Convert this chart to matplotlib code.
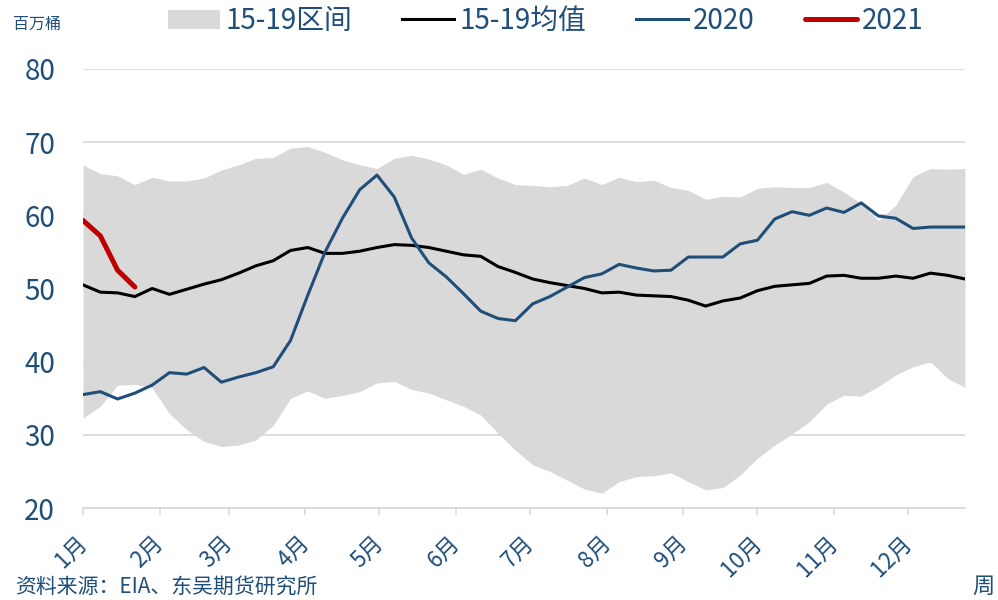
import matplotlib
matplotlib.use('Agg')
import matplotlib.pyplot as plt
import matplotlib.transforms as mtransforms
from matplotlib.patches import Patch
from matplotlib.lines import Line2D
import numpy as np

plt.rcParams['font.family'] = ['Noto Sans CJK SC', 'DejaVu Sans']

# weekly data, 52 weeks
band_high = [66.9, 65.7, 65.4, 64.2, 65.2, 64.7, 64.7, 65.1, 66.2, 66.9,
             67.8, 67.9, 69.2, 69.4, 68.6, 67.6, 66.9, 66.4, 67.8, 68.2,
             67.7, 66.9, 65.6, 66.3, 65.1, 64.2, 64.1, 63.9, 64.1, 65.1,
             64.2, 65.2, 64.6, 64.8, 63.8, 63.4, 62.2, 62.6, 62.5, 63.7,
             63.9, 63.8, 63.8, 64.5, 63.2, 61.6, 59.3, 61.4, 65.3, 66.4,
             66.3, 66.4]
band_low = [32.3, 33.9, 36.8, 36.9, 36.4, 32.9, 30.7, 29.1, 28.4, 28.6,
            29.3, 31.3, 35.0, 36.0, 35.0, 35.4, 35.9, 37.1, 37.3, 36.2,
            35.7, 34.8, 33.9, 32.7, 30.2, 27.9, 25.9, 25.0, 23.8, 22.6,
            22.0, 23.6, 24.3, 24.4, 24.8, 23.6, 22.5, 22.8, 24.5, 26.8,
            28.6, 30.1, 31.8, 34.2, 35.4, 35.3, 36.6, 38.2, 39.3, 40.0,
            37.7, 36.5]
avg_15_19 = [50.5, 49.5, 49.4, 48.9, 50.0, 49.2, 49.9, 50.6, 51.2, 52.1,
             53.1, 53.8, 55.2, 55.6, 54.8, 54.8, 55.1, 55.6, 56.0, 55.9,
             55.6, 55.1, 54.6, 54.4, 53.0, 52.2, 51.3, 50.8, 50.4, 50.0,
             49.4, 49.5, 49.1, 49.0, 48.9, 48.4, 47.6, 48.3, 48.7, 49.7,
             50.3, 50.5, 50.7, 51.7, 51.8, 51.4, 51.4, 51.7, 51.4, 52.1,
             51.8, 51.3]
y2020 = [35.5, 35.9, 34.9, 35.7, 36.8, 38.5, 38.3, 39.2, 37.2, 37.9,
         38.5, 39.3, 42.9, 49.1, 55.0, 59.6, 63.5, 65.5, 62.5, 56.9,
         53.5, 51.6, 49.3, 46.9, 45.9, 45.6, 47.9, 48.9, 50.2, 51.5,
         52.0, 53.3, 52.8, 52.4, 52.5, 54.3, 54.3, 54.3, 56.1, 56.6,
         59.5, 60.5, 60.0, 61.0, 60.4, 61.7, 59.9, 59.6, 58.2, 58.4,
         58.4, 58.4]
y2021 = [59.3, 57.2, 52.5, 50.2]

month_labels = ['1月', '2月', '3月', '4月', '5月', '6月',
                '7月', '8月', '9月', '10月', '11月', '12月']
month_start_day = [0, 31, 59, 90, 120, 151, 181, 212, 243, 273, 304, 334]

TXT = '#1F4E79'
GRID = '#D9D9D9'

weeks = np.arange(len(band_high))
month_pos = np.array(month_start_day) / 7.0

fig = plt.figure(figsize=(9.98, 6), dpi=100)
ax = fig.add_axes([83/998, 92/600, 882/998, 439/600])

ax.fill_between(weeks, band_low, band_high, color='#D9D9D9', linewidth=0, zorder=1)
ax.plot(weeks, avg_15_19, color='black', lw=2.2, zorder=3)
ax.plot(weeks, y2020, color='#1F4E79', lw=2.2, zorder=4)
ax.plot(np.arange(len(y2021)), y2021, color='#C00000', lw=3.6,
        solid_capstyle='round', zorder=5)

ax.set_xlim(0, 51)
ax.set_ylim(20, 80)
ax.set_yticks(range(20, 81, 10))
ax.yaxis.grid(True, color=GRID, lw=1.3, zorder=0)
ax.set_axisbelow(True)
for s in ['top', 'right', 'left']:
    ax.spines[s].set_visible(False)
ax.spines['bottom'].set_color(GRID)
ax.spines['bottom'].set_linewidth(1.3)

ax.tick_params(axis='y', length=0, pad=20, labelsize=20, labelcolor=TXT)
ax.set_xticks(month_pos)
ax.set_xticklabels(month_labels)
ax.tick_params(axis='x', length=5, width=1.2, color=GRID, direction='out',
               pad=12, labelsize=16, labelcolor=TXT)
offset = mtransforms.ScaledTranslation(6/72, 0, fig.dpi_scale_trans)
for lab in ax.get_xticklabels():
    lab.set_rotation(45)
    lab.set_ha('right')
    lab.set_transform(lab.get_transform() + offset)

handles = [Patch(facecolor='#D9D9D9', edgecolor='none'),
           Line2D([], [], color='black', lw=2.2),
           Line2D([], [], color='#1F4E79', lw=2.2),
           Line2D([], [], color='#C00000', lw=3.6, solid_capstyle='round')]
labels = ['15-19区间', '15-19均值', '2020', '2021']
fig.legend(handles, labels, loc='center', bbox_to_anchor=(546/998, 1 - 21/600),
           ncol=4, frameon=False, fontsize=20, labelcolor=TXT,
           handlelength=1.86, handletextpad=0.2, columnspacing=1.8,
           borderpad=0, borderaxespad=0)

fig.text(13/998, 1 - 24/600, '百万桶', fontsize=11.5, color=TXT, ha='left', va='center')
fig.text(15/998, 1 - 587/600, '资料来源：EIA、东吴期货研究所', fontsize=15,
         color=TXT, ha='left', va='center', style='italic')
fig.text(983/998, 1 - 586/600, '周', fontsize=16, color=TXT, ha='center', va='center')

fig.savefig('out.png', dpi=100)
